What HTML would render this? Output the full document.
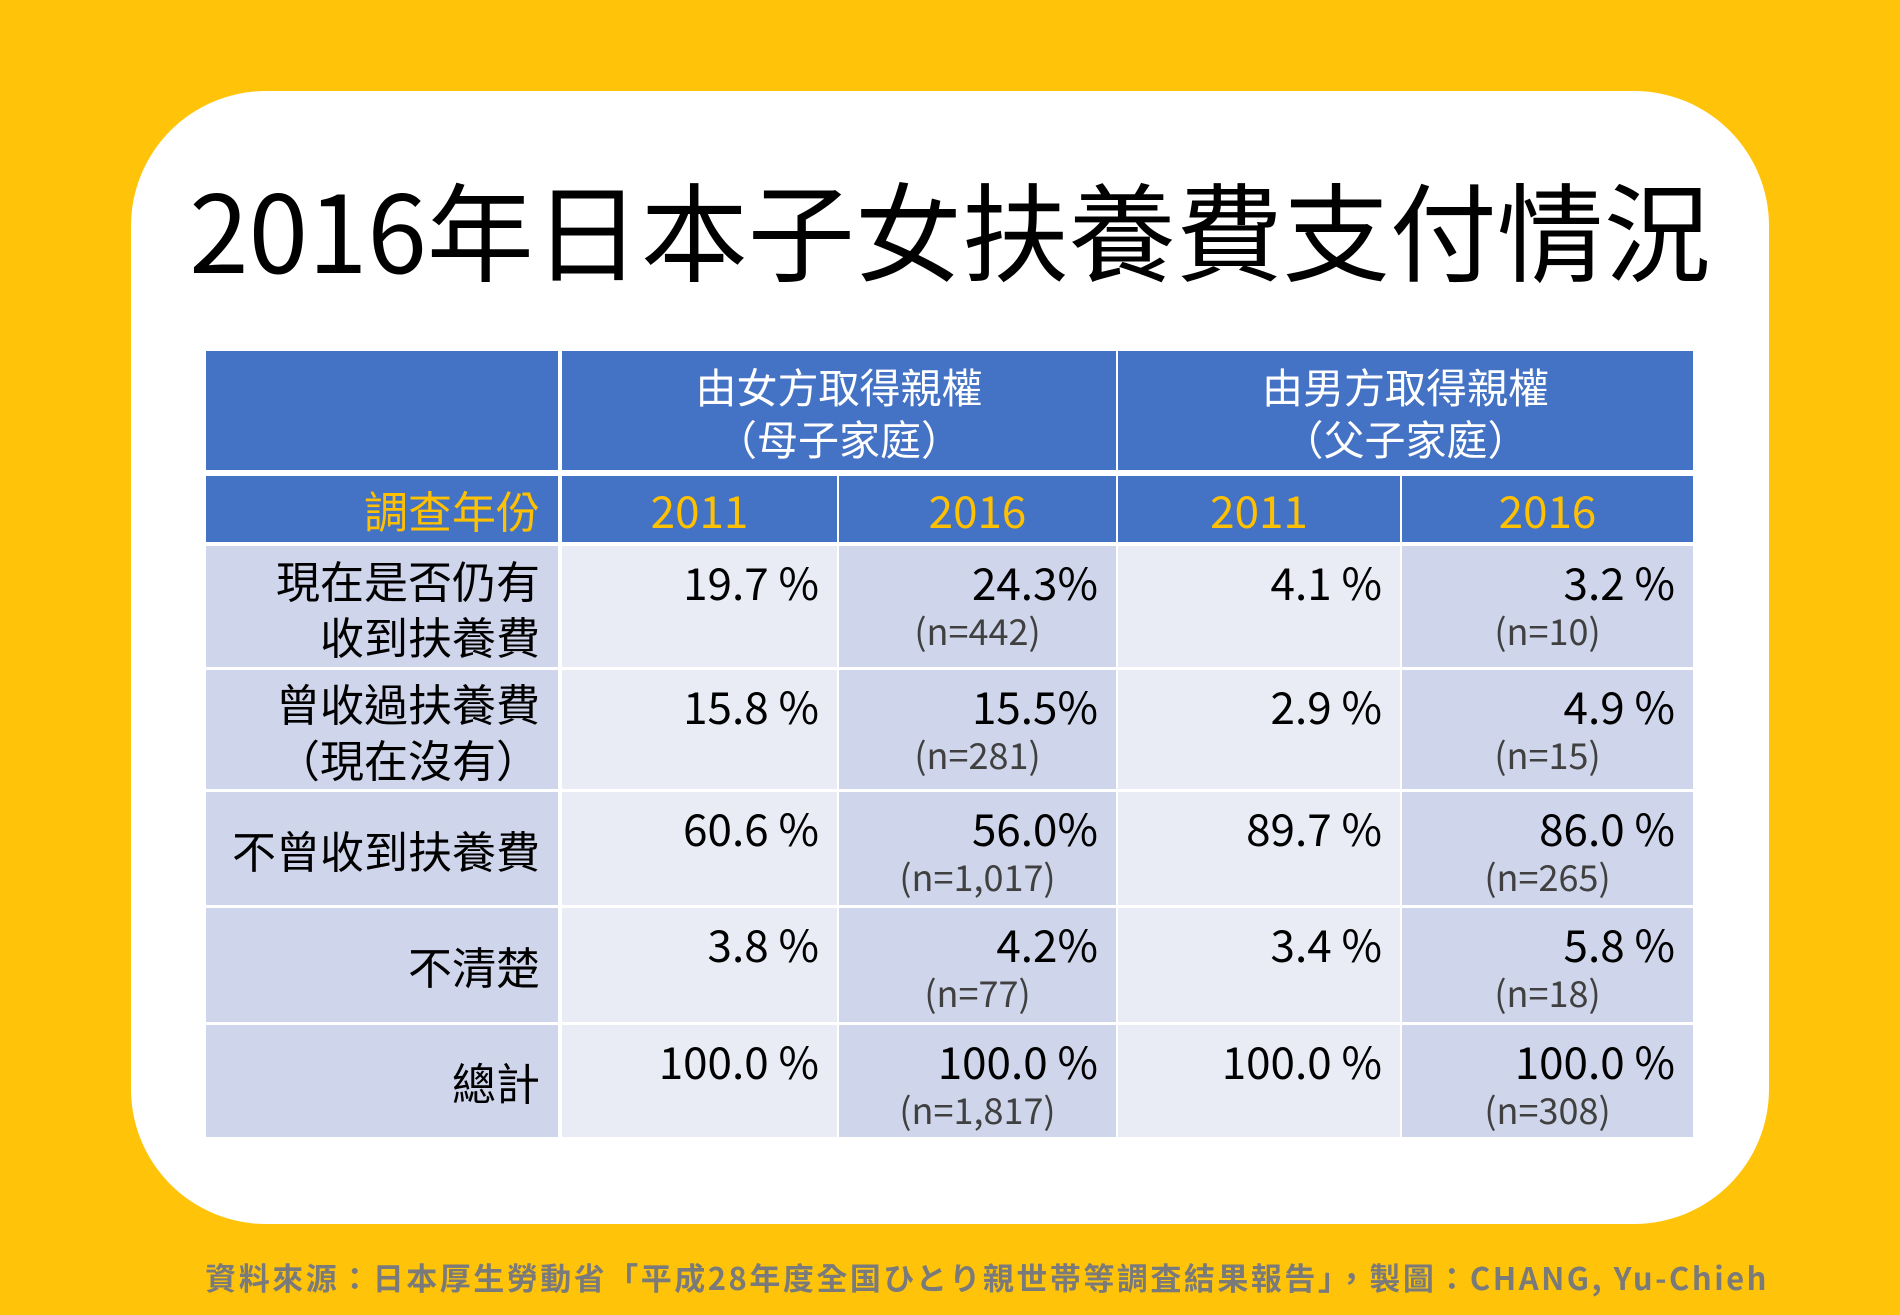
<!DOCTYPE html>
<html><head><meta charset="utf-8"><style>
body{margin:0;width:1900px;height:1315px;background:#FFC40A;position:relative;overflow:hidden;font-family:"Liberation Sans","Noto Sans CJK TC",sans-serif;}
.card{position:absolute;left:131px;top:91px;width:1638px;height:1133px;background:#fff;border-radius:135px;}
.title{position:absolute;left:131px;width:1638px;top:162px;text-align:center;font-family:"Noto Sans CJK TC",sans-serif;font-size:107px;line-height:130px;color:#000;white-space:nowrap;}
.c{position:absolute;box-sizing:border-box;}
.hd{background:#4472C4;color:#fff;font-family:"Noto Sans CJK TC",sans-serif;font-size:41px;line-height:52px;text-align:center;display:flex;flex-direction:column;justify-content:center;}
.yr{background:#4472C4;color:#FFC000;font-family:"Noto Sans CJK TC",sans-serif;font-size:44px;display:flex;align-items:center;justify-content:center;}
.lab{background:#CFD5EA;color:#000;font-family:"Noto Sans CJK TC",sans-serif;font-size:44px;line-height:56px;text-align:right;padding-right:18px;display:flex;flex-direction:column;justify-content:center;align-items:flex-end;}
.d1{background:#E9EBF5}.d2{background:#CFD5EA}
.pct{position:absolute;right:18px;top:7px;font-family:"Noto Sans CJK TC",sans-serif;font-size:44px;line-height:56px;color:#000;}
.n{position:absolute;left:0;right:0;top:63px;text-align:center;font-family:"Noto Sans CJK TC",sans-serif;font-size:36px;line-height:42px;color:#404040;}
.foot{position:absolute;right:131px;top:1254px;font-family:"Noto Sans CJK TC",sans-serif;font-weight:bold;font-size:31px;letter-spacing:2.5px;color:#7a7a7a;white-space:nowrap;}
</style></head><body>
<div class="card"></div>
<div class="title">2016年日本子女扶養費支付情況</div>
<div id="tbl"></div>
<div class="foot">資料來源：日本厚生勞動省「平成28年度全国ひとり親世帯等調査結果報告」，製圖：CHANG, Yu-Chieh</div>
<script>
const colX=[206,560,837,1116,1400,1693];
const rowY=[544,668,790,906,1023,1138];
const labels=[["現在是否仍有","收到扶養費"],["曾收過扶養費","（現在沒有）"],["不曾收到扶養費"],["不清楚"],["總計"]];
const mother2011=["19.7 %","15.8 %","60.6 %","3.8 %","100.0 %"];
const mother2016=["24.3%","15.5%","56.0%","4.2%","100.0 %"];
const motherN=["(n=442)","(n=281)","(n=1,017)","(n=77)","(n=1,817)"];
const father2011=["4.1 %","2.9 %","89.7 %","3.4 %","100.0 %"];
const father2016=["3.2 %","4.9 %","86.0 %","5.8 %","100.0 %"];
const fatherN=["(n=10)","(n=15)","(n=265)","(n=18)","(n=308)"];
const years=["2011","2016","2011","2016"];
const t=document.getElementById('tbl');
function cell(cls,x1,x2,y1,y2,html,name){
  const d=document.createElement('div');d.className='c '+cls;
  d.style.left=(x1+(x1===206?0:2))+'px';d.style.top=(y1+2)+'px';
  d.style.width=(x2-x1-2)+'px';d.style.height=(y2-y1-3)+'px';
  d.innerHTML=html;
  
  
  t.appendChild(d);return d;}
cell('hd',colX[0],colX[1],349,471,'','header-blank');
cell('hd',colX[1],colX[3],349,471,'<div>由女方取得親權</div><div>（母子家庭）</div>','header-mother');
cell('hd',colX[3],colX[5],349,471,'<div>由男方取得親權</div><div>（父子家庭）</div>','header-father');
cell('yr',colX[0],colX[1],474,543,'<div style="width:100%;text-align:right;padding-right:18px;box-sizing:border-box">調查年份</div>','header-year-label');
years.forEach((y,i)=>cell('yr',colX[i+1],colX[i+2],474,543,y,'header-year-'+y));
labels.forEach((l,r)=>{
  const y1=rowY[r],y2=rowY[r+1];
  cell('lab',colX[0],colX[1],y1,y2,l.map(s=>'<div>'+s+'</div>').join(''),'row-label');
  cell('d1',colX[1],colX[2],y1,y2,'<div class="pct">'+mother2011[r]+'</div>','mother-2011-value');
  cell('d2',colX[2],colX[3],y1,y2,'<div class="pct">'+mother2016[r]+'</div><div class="n">'+motherN[r]+'</div>','mother-2016-value');
  cell('d1',colX[3],colX[4],y1,y2,'<div class="pct">'+father2011[r]+'</div>','father-2011-value');
  cell('d2',colX[4],colX[5],y1,y2,'<div class="pct">'+father2016[r]+'</div><div class="n">'+fatherN[r]+'</div>','father-2016-value');
});
</script>
</body></html>
